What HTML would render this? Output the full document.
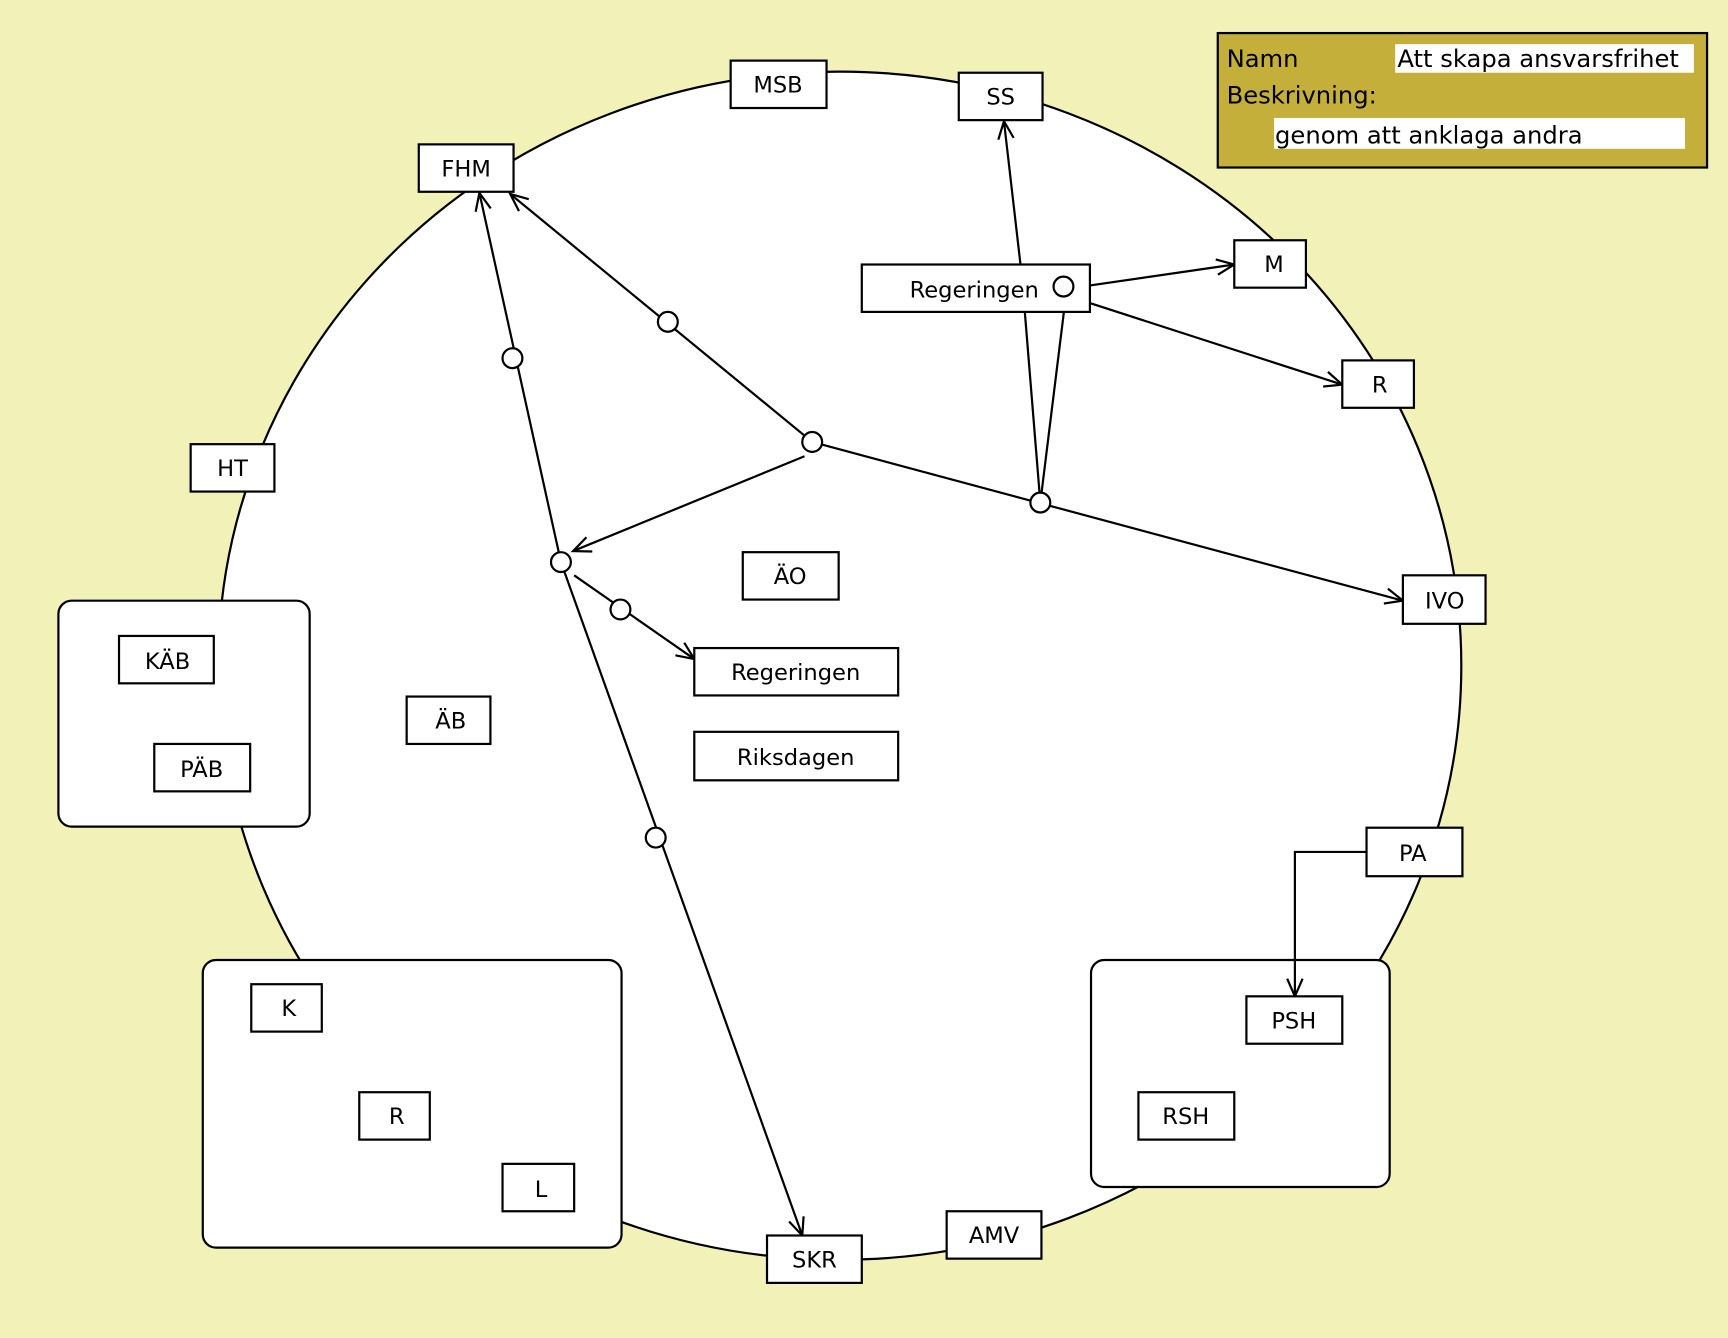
<!DOCTYPE html>
<html><head><meta charset="utf-8"><style>
html,body{margin:0;padding:0;background:#f2f2b8;}
svg{display:block;}
text{font-family:"DejaVu Sans","Liberation Sans",sans-serif;font-size:20.5px;fill:#000;}
text.lg{font-size:22px;}
</style></head><body>
<svg width="1728" height="1338" viewBox="0 0 1568 1214" preserveAspectRatio="none" xmlns="http://www.w3.org/2000/svg">
<defs>
<marker id="a" markerWidth="20" markerHeight="20" refX="17" refY="8" orient="auto" markerUnits="userSpaceOnUse">
<polyline points="1,1 17,8 1,15" fill="none" stroke="#000" stroke-width="2"/>
</marker>
</defs>
<rect x="0" y="0" width="1568" height="1214" fill="#f2f2b8"/>
<ellipse cx="762" cy="604" rx="564" ry="539" fill="#fff" stroke="#000" stroke-width="2"/>

<g fill="#fff" stroke="#000" stroke-width="2">
<rect x="53" y="545" width="228" height="205" rx="12"/>
<rect x="184" y="871" width="380" height="261" rx="12"/>
<rect x="990" y="871" width="271" height="206" rx="12"/>
</g>

<g fill="none" stroke="#000" stroke-width="2">
<line x1="737" y1="401" x2="463" y2="176" marker-end="url(#a)"/>
<line x1="737" y1="401" x2="1273" y2="545" marker-end="url(#a)"/>
<line x1="730" y1="414" x2="520" y2="500" marker-end="url(#a)"/>
<line x1="509" y1="510" x2="435" y2="175" marker-end="url(#a)"/>
<line x1="509" y1="510" x2="728" y2="1121" marker-end="url(#a)"/>
<line x1="521" y1="522" x2="630" y2="598" marker-end="url(#a)"/>
<line x1="944" y1="456" x2="930" y2="284"/>
<line x1="944" y1="456" x2="967" y2="270"/>
<line x1="926" y1="240" x2="911" y2="110" marker-end="url(#a)"/>
<line x1="975" y1="261" x2="1120" y2="240" marker-end="url(#a)"/>
<line x1="989" y1="275" x2="1218" y2="349" marker-end="url(#a)"/>
<polyline points="1240,773 1175,773 1175,904" marker-end="url(#a)"/>
</g>

<g fill="#fff" stroke="#000" stroke-width="2">
<rect x="663" y="55" width="87" height="43"/>
<rect x="870" y="66" width="76" height="43"/>
<rect x="380" y="131" width="86" height="43"/>
<rect x="782" y="240" width="207" height="43"/>
<rect x="1120" y="218" width="65" height="43"/>
<rect x="1218" y="327" width="65" height="43"/>
<rect x="173" y="403" width="76" height="43"/>
<rect x="1273" y="522" width="75" height="44"/>
<rect x="674" y="501" width="87" height="43"/>
<rect x="630" y="588" width="185" height="43"/>
<rect x="630" y="664" width="185" height="44"/>
<rect x="369" y="632" width="76" height="43"/>
<rect x="108" y="577" width="86" height="43"/>
<rect x="140" y="675" width="87" height="43"/>
<rect x="1240" y="751" width="87" height="44"/>
<rect x="1131" y="904" width="87" height="43"/>
<rect x="1033" y="991" width="87" height="43"/>
<rect x="228" y="893" width="64" height="43"/>
<rect x="326" y="991" width="64" height="43"/>
<rect x="456" y="1056" width="65" height="43"/>
<rect x="696" y="1121" width="86" height="43"/>
<rect x="859" y="1099" width="86" height="43"/>
</g>

<g fill="#fff" stroke="#000" stroke-width="2">
<circle cx="606" cy="292" r="9"/>
<circle cx="465" cy="325" r="9"/>
<circle cx="737" cy="401" r="9"/>
<circle cx="944" cy="456" r="9"/>
<circle cx="509" cy="510" r="9"/>
<circle cx="563" cy="553" r="9"/>
<circle cx="595" cy="760" r="9"/>
<circle cx="965" cy="260" r="9"/>
</g>

<g text-anchor="middle">
<text x="706" y="84">MSB</text>
<text x="908" y="95">SS</text>
<text x="423" y="160">FHM</text>
<text x="884" y="270">Regeringen</text>
<text x="1156" y="247">M</text>
<text x="1252" y="356">R</text>
<text x="211" y="432">HT</text>
<text x="1311" y="552">IVO</text>
<text x="717" y="530">ÄO</text>
<text x="722" y="617">Regeringen</text>
<text x="722" y="694">Riksdagen</text>
<text x="409" y="661">ÄB</text>
<text x="152" y="607">KÄB</text>
<text x="183" y="705">PÄB</text>
<text x="1282" y="781">PA</text>
<text x="1174" y="933">PSH</text>
<text x="1076" y="1020">RSH</text>
<text x="262" y="922">K</text>
<text x="360" y="1020">R</text>
<text x="491" y="1086">L</text>
<text x="739" y="1150">SKR</text>
<text x="902" y="1128">AMV</text>
</g>

<rect x="1105" y="30" width="444" height="122" fill="#c4af3a" stroke="#000" stroke-width="2"/>
<rect x="1266" y="40" width="271" height="26" fill="#fff"/>
<rect x="1156" y="107" width="373" height="28" fill="#fff"/>
<text class="lg" x="1113" y="61">Namn</text>
<text class="lg" x="1268" y="61">Att skapa ansvarsfrihet</text>
<text class="lg" x="1113" y="94">Beskrivning:</text>
<text class="lg" x="1157" y="130">genom att anklaga andra</text>
</svg>
</body></html>
